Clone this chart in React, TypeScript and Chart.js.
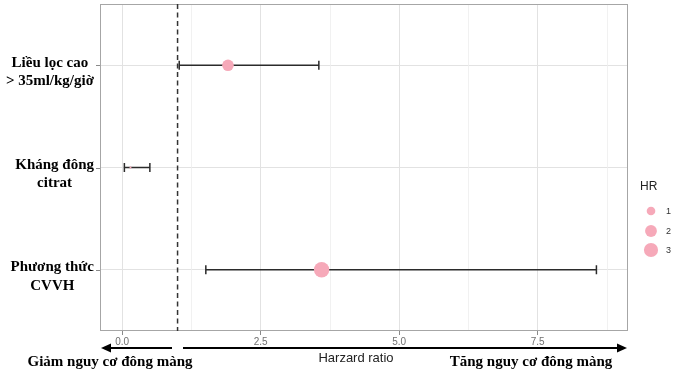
import React, { useEffect, useRef } from "react";
import { Chart, registerables } from "chart.js";
Chart.register(...registerables);

const categories: string[][] = [
  ["Liều lọc cao", "> 35ml/kg/giờ"],
  ["Kháng đông", "citrat"],
  ["Phương thức", "CVVH"],
];
const hrValues = [1.91, 0.15, 3.6];
const ciLow = [1.03, 0.04, 1.51];
const ciHigh = [3.55, 0.5, 8.56];
const xTicks = [0, 2.5, 5, 7.5];
const xMinorTicks = [1.25, 3.75, 6.25, 8.75];
const refLine = 1;
const legendValues = [1, 2, 3];
const xTitle = "Harzard ratio";
const leftNote = "Giảm nguy cơ đông màng";
const rightNote = "Tăng nguy cơ đông màng";
const legendTitle = "HR";

const PINK = "#F6A9B9";
const hrMin = 0.15;
const hrMax = 3.6;
const radiusFor = (v: number) => {
  const t = Math.max(0, (v - hrMin) / (hrMax - hrMin));
  return 1 + 6.7 * Math.sqrt(t);
};

const serifBold = 'bold 15px "Liberation Serif", "Times New Roman", serif';
const sans = '"Liberation Sans", Arial, sans-serif';

const overlay = {
  id: "overlay",
  beforeDatasetsDraw(chart: any) {
    const { ctx, chartArea: a, scales } = chart;
    const xs = scales.x;
    const ys = scales.y;
    ctx.save();
    // minor grid
    ctx.strokeStyle = "#eeeeee";
    ctx.lineWidth = 0.8;
    xMinorTicks.forEach((v) => {
      const px = Math.round(xs.getPixelForValue(v)) + 0.5;
      ctx.beginPath();
      ctx.moveTo(px, a.top);
      ctx.lineTo(px, a.bottom);
      ctx.stroke();
    });
    // y tick marks
    ctx.strokeStyle = "#8a8a8a";
    ctx.lineWidth = 1;
    categories.forEach((_, i) => {
      const y = Math.round(ys.getPixelForValue(categories.length - i)) + 0.5;
      ctx.beginPath();
      ctx.moveTo(a.left - 4, y);
      ctx.lineTo(a.left, y);
      ctx.stroke();
    });
    // panel border
    ctx.strokeStyle = "#a6a6a6";
    ctx.lineWidth = 1;
    ctx.strokeRect(a.left + 0.5, a.top + 0.5, a.right - a.left - 1, a.bottom - a.top - 1);
    // reference dashed line
    const rx = xs.getPixelForValue(refLine);
    ctx.strokeStyle = "#333333";
    ctx.lineWidth = 1.5;
    ctx.setLineDash([5, 3.5]);
    ctx.beginPath();
    ctx.moveTo(rx, a.top);
    ctx.lineTo(rx, a.bottom);
    ctx.stroke();
    ctx.setLineDash([]);
    // error bars
    ctx.strokeStyle = "#2b2b2b";
    ctx.lineWidth = 1.5;
    categories.forEach((_, i) => {
      const y = ys.getPixelForValue(categories.length - i);
      const x1 = xs.getPixelForValue(ciLow[i]);
      const x2 = xs.getPixelForValue(ciHigh[i]);
      ctx.beginPath();
      ctx.moveTo(x1, y);
      ctx.lineTo(x2, y);
      ctx.moveTo(x1, y - 4.5);
      ctx.lineTo(x1, y + 4.5);
      ctx.moveTo(x2, y - 4.5);
      ctx.lineTo(x2, y + 4.5);
      ctx.stroke();
    });
    ctx.restore();
  },
  afterDraw(chart: any) {
    const { ctx, chartArea: a, scales } = chart;
    const ys = scales.y;
    ctx.save();
    // y labels
    ctx.fillStyle = "#000";
    ctx.font = serifBold;
    ctx.textBaseline = "middle";
    ctx.textAlign = "center";
    categories.forEach((lines, i) => {
      const y = ys.getPixelForValue(categories.length - i);
      const widths = lines.map((l) => ctx.measureText(l).width);
      const w = Math.max(...widths);
      const cx = 94 - w / 2;
      lines.forEach((l, j) => {
        ctx.fillText(l, cx, y - 2.5 + j * 18.5);
      });
    });
    // arrows
    const ay = 348;
    ctx.strokeStyle = "#000";
    ctx.fillStyle = "#000";
    ctx.lineWidth = 2;
    const arrow = (x1: number, x2: number) => {
      const dir = Math.sign(x2 - x1);
      ctx.beginPath();
      ctx.moveTo(x1, ay);
      ctx.lineTo(x2 - dir * 8, ay);
      ctx.stroke();
      ctx.beginPath();
      ctx.moveTo(x2, ay);
      ctx.lineTo(x2 - dir * 10, ay - 4.5);
      ctx.lineTo(x2 - dir * 10, ay + 4.5);
      ctx.closePath();
      ctx.fill();
    };
    arrow(172, 101);
    arrow(183, 627);
    // bottom texts
    ctx.font = `13px ${sans}`;
    ctx.fillStyle = "#222";
    ctx.textAlign = "center";
    ctx.fillText(xTitle, (a.left + a.right) / 2 - 8, 358);
    ctx.font = serifBold;
    ctx.fillStyle = "#000";
    ctx.fillText(leftNote, 110, 362);
    ctx.fillText(rightNote, 531, 362);
    // legend
    ctx.textAlign = "left";
    ctx.font = `12px ${sans}`;
    ctx.fillStyle = "#222";
    ctx.fillText(legendTitle, 640, 187);
    const ly = [211, 231, 250];
    legendValues.forEach((v, i) => {
      ctx.beginPath();
      ctx.fillStyle = PINK;
      ctx.arc(651, ly[i], radiusFor(v), 0, Math.PI * 2);
      ctx.fill();
      ctx.fillStyle = "#333";
      ctx.font = `9px ${sans}`;
      ctx.fillText(String(v), 666, ly[i] + 1);
    });
    ctx.restore();
  },
};

export default function App() {
  const ref = useRef<HTMLCanvasElement>(null);
  useEffect(() => {
    document.body.style.margin = "0";
    const chart = new Chart(ref.current!, {
      type: "scatter",
      data: {
        datasets: [
          {
            data: hrValues.map((v, i) => ({ x: v, y: categories.length - i })),
            backgroundColor: PINK,
            borderColor: PINK,
            borderWidth: 0,
            pointRadius: hrValues.map(radiusFor),
            pointHoverRadius: hrValues.map(radiusFor),
          },
        ],
      },
      options: {
        animation: false,
        responsive: false,
        devicePixelRatio: 1,
        layout: { autoPadding: false, padding: { left: 0, right: 45, top: 4, bottom: 0 } },
        plugins: { legend: { display: false }, tooltip: { enabled: false } },
        scales: {
          x: {
            type: "linear",
            min: -0.4,
            max: 9.13,
            afterBuildTicks: (s: any) => {
              s.ticks = xTicks.map((v) => ({ value: v }));
            },
            afterFit: (s: any) => {
              s.height = 39;
            },
            border: { display: false },
            grid: { color: "#e2e2e2", lineWidth: 1, tickLength: 4, tickColor: "#8a8a8a", tickWidth: 1 },
            ticks: {
              padding: 1,
              color: "#707070",
              font: { family: sans, size: 10 },
              callback: (v: any) => Number(v).toFixed(1),
            },
          },
          y: {
            type: "linear",
            min: 0.4,
            max: 3.6,
            afterBuildTicks: (s: any) => {
              s.ticks = categories.map((_, i) => ({ value: categories.length - i }));
            },
            afterFit: (s: any) => {
              s.width = 100;
            },
            border: { display: false },
            grid: { color: "#e2e2e2", lineWidth: 1, drawTicks: false },
            ticks: { display: false },
          },
        },
      },
      plugins: [overlay],
    });
    return () => chart.destroy();
  }, []);
  return (
    <div style={{ position: "fixed", left: 0, top: 0, width: 673, height: 370, background: "#fff" }}>
      <canvas ref={ref} width={673} height={370} style={{ width: 673, height: 370 }} />
    </div>
  );
}
